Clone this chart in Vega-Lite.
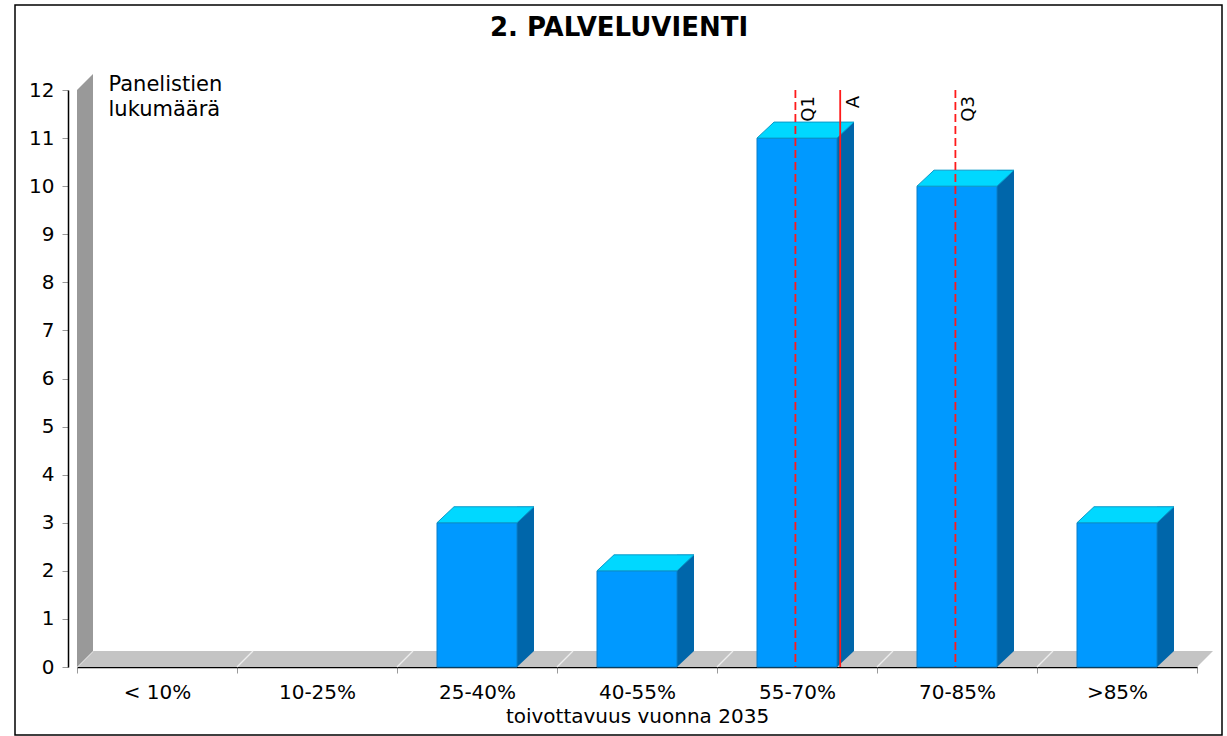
{
  "$schema": "https://vega.github.io/schema/vega-lite/v6.json",
  "width": 1120,
  "height": 577,
  "autosize": "none",
  "padding": {"left": 77, "top": 90, "right": 30, "bottom": 69},
  "background": "#ffffff",
  "config": {
    "font": "DejaVu Sans",
    "view": {"stroke": null},
    "axis": {
      "grid": false,
      "labelColor": "#000000",
      "titleColor": "#000000",
      "labelFont": "DejaVu Sans",
      "titleFont": "DejaVu Sans",
      "titleFontWeight": "normal",
      "zindex": 1
    }
  },
  "title": {
    "text": "2. PALVELUVIENTI",
    "fontSize": 26,
    "fontWeight": "bold",
    "color": "#000000",
    "anchor": "middle",
    "frame": "group",
    "baseline": "alphabetic",
    "offset": 0,
    "dx": -18,
    "dy": 58
  },
  "datasets": {
    "vastaukset": [
      {"luokka": "< 10%", "lukumaara": 0},
      {"luokka": "10-25%", "lukumaara": 0},
      {"luokka": "25-40%", "lukumaara": 3},
      {"luokka": "40-55%", "lukumaara": 2},
      {"luokka": "55-70%", "lukumaara": 11},
      {"luokka": "70-85%", "lukumaara": 10},
      {"luokka": ">85%", "lukumaara": 3}
    ],
    "tunnusluvut": [
      {"tunnus": "Q1", "sijainti": 4.49, "viiva": "katkoviiva"},
      {"tunnus": "A", "sijainti": 4.77, "viiva": "yhtenäinen"},
      {"tunnus": "Q3", "sijainti": 5.49, "viiva": "katkoviiva"}
    ]
  },
  "layer": [
    {
      "encoding": {
        "x": {
          "field": "luokka",
          "type": "nominal",
          "sort": null,
          "scale": {
            "domain": ["< 10%", "10-25%", "25-40%", "40-55%", "55-70%", "70-85%", ">85%"],
            "paddingInner": 0,
            "paddingOuter": 0
          },
          "axis": {
            "title": "toivottavuus vuonna 2035",
            "labelAngle": 0,
            "tickBand": "extent",
            "domainColor": "#000000",
            "domainWidth": 1.5,
            "tickColor": "#999999",
            "tickSize": 6,
            "labelFontSize": 20,
            "labelPadding": 9,
            "titleFontSize": 20,
            "titleBaseline": "alphabetic",
            "titleY": 55
          }
        },
        "y": {
          "field": "lukumaara",
          "type": "quantitative",
          "scale": {"domain": [0, 12], "nice": false},
          "axis": {
            "values": [0, 1, 2, 3, 4, 5, 6, 7, 8, 9, 10, 11, 12],
            "offset": 9,
            "domainColor": "#000000",
            "domainWidth": 1.5,
            "tickColor": "#999999",
            "tickSize": 6,
            "labelFontSize": 20,
            "labelPadding": 8,
            "title": ["Panelistien", "lukumäärä"],
            "titleAngle": 0,
            "titleAlign": "left",
            "titleBaseline": "alphabetic",
            "titleX": 40,
            "titleY": 0,
            "titleFontSize": 21,
            "titleLineHeight": 25
          }
        }
      },
      "layer": [
        {
          "data": {"name": "vastaukset"},
          "transform": [{"filter": "datum.luokka == '< 10%'"}],
          "mark": {"type": "point", "shape": "M -80 0 L 1040 0 L 1056 -16 L -64 -16 Z", "size": 4, "filled": true, "color": "#c4c4c4", "strokeWidth": 0, "opacity": 1},
          "encoding": {"y": {"datum": 0, "type": "quantitative"}}
        },
        {
          "data": {"name": "vastaukset"},
          "mark": {"type": "point", "shape": "M -80 0 L -64 -16", "size": 4, "filled": false, "color": "#eeeeee", "strokeWidth": 1.2, "opacity": 1},
          "encoding": {"y": {"datum": 0, "type": "quantitative"}}
        },
        {
          "data": {"name": "vastaukset"},
          "transform": [{"filter": "datum.luokka == '< 10%'"}],
          "mark": {"type": "point", "shape": "M -80 0 L -80 -577 L -64 -593 L -64 -16 Z", "size": 4, "filled": true, "color": "#999999", "strokeWidth": 0, "opacity": 1},
          "encoding": {"y": {"datum": 0, "type": "quantitative"}}
        },
        {
          "data": {"name": "vastaukset"},
          "transform": [{"filter": "datum.lukumaara > 0"}],
          "mark": {"type": "bar", "width": 17, "xOffset": 48.5, "yOffset": -16, "fill": "#0066aa"}
        },
        {
          "data": {"name": "vastaukset"},
          "transform": [{"filter": "datum.lukumaara > 0"}],
          "mark": {"type": "point", "shape": "M 40 0 L 40 -16 L 57 -16 Z", "size": 4, "filled": true, "color": "#0066aa", "strokeWidth": 0, "opacity": 1},
          "encoding": {"y": {"datum": 0, "type": "quantitative"}}
        },
        {
          "data": {"name": "vastaukset"},
          "transform": [{"filter": "datum.lukumaara > 0"}],
          "mark": {"type": "bar", "width": {"band": 0.5}, "fill": "#0099ff", "stroke": "#0a7fc8", "strokeWidth": 1}
        },
        {
          "data": {"name": "vastaukset"},
          "transform": [{"filter": "datum.lukumaara > 0"}],
          "mark": {"type": "point", "shape": "M -40 0 L 40 0 L 57 -16 L -23 -16 Z", "size": 4, "filled": true, "fill": "#00d8ff", "stroke": "#0a99c8", "strokeWidth": 1, "opacity": 1}
        }
      ]
    },
    {
      "layer": [
        {
          "data": {"values": [{}]},
          "mark": {"type": "rect", "filled": false, "stroke": "#000000", "strokeWidth": 1.5},
          "encoding": {
            "x": {"datum": -0.3875, "type": "quantitative", "scale": {"domain": [0, 7], "nice": false, "zero": false}, "axis": null},
            "x2": {"datum": 7.15625},
            "y": {"datum": 13.768, "type": "quantitative"},
            "y2": {"datum": -1.414}
          }
        },
        {
          "data": {"name": "tunnusluvut"},
          "mark": {"type": "rule", "color": "#ff1a1a", "strokeWidth": 1.8},
          "encoding": {
            "x": {"field": "sijainti", "type": "quantitative", "scale": {"domain": [0, 7], "nice": false, "zero": false}, "axis": null},
            "strokeDash": {
              "field": "viiva",
              "type": "nominal",
              "scale": {"domain": ["katkoviiva", "yhtenäinen"], "range": [[8, 4], [1, 0]]},
              "legend": null
            }
          }
        },
        {
          "data": {"name": "tunnusluvut"},
          "mark": {"type": "text", "angle": 270, "align": "right", "baseline": "top", "fontSize": 18, "color": "#000000", "xOffset": 5, "yOffset": 6},
          "encoding": {
            "x": {"field": "sijainti", "type": "quantitative", "scale": {"domain": [0, 7], "nice": false, "zero": false}, "axis": null},
            "y": {"datum": 12, "type": "quantitative"},
            "text": {"field": "tunnus"}
          }
        }
      ]
    }
  ],
  "resolve": {"scale": {"x": "independent"}}
}
